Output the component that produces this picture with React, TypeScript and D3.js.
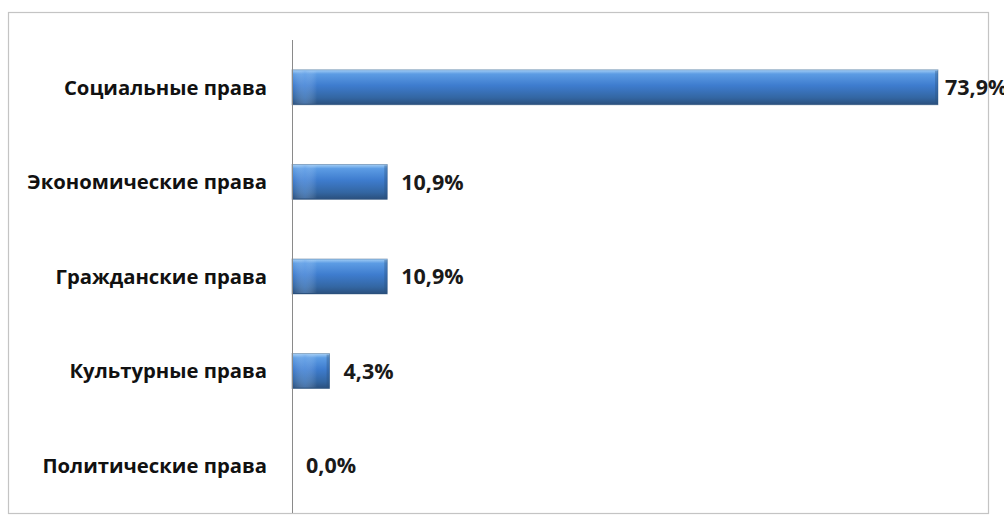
import React from "react";
import * as d3 from "d3";

const categories = [
  "Социальные права",
  "Экономические права",
  "Гражданские права",
  "Культурные права",
  "Политические права",
];
const values = [73.9, 10.9, 10.9, 4.3, 0.0];
const valueLabels = ["73,9%", "10,9%", "10,9%", "4,3%", "0,0%"];

const W = 1004;
const H = 532;
const frame = { x: 8, y: 12, w: 980, h: 501 };
const plot = { left: 292, top: 40, bottom: 513, right: 945 };

export default function App() {
  const x = d3.scaleLinear().domain([0, 73.9]).range([plot.left, 938]);
  const y = d3
    .scaleBand<string>()
    .domain(categories)
    .range([plot.top, plot.bottom])
    .paddingInner(0.63)
    .paddingOuter(0.315);
  const font = "'Open Sans', 'DejaVu Sans', sans-serif";
  return (
    <svg
      width={W}
      height={H}
      style={{ position: "absolute", left: 0, top: 0, background: "#fff" }}
    >
      <defs>
        <linearGradient id="barGrad" x1="0" y1="0" x2="0" y2="1">
          <stop offset="0" stopColor="#a6d0f6" />
          <stop offset="0.12" stopColor="#5c9ce4" />
          <stop offset="0.45" stopColor="#3e7cce" />
          <stop offset="0.8" stopColor="#3366a2" />
          <stop offset="1" stopColor="#2a4f7c" />
        </linearGradient>
        <linearGradient id="capGrad" x1="0" y1="0" x2="1" y2="0">
          <stop offset="0" stopColor="#ffffff" stopOpacity="0.0" />
          <stop offset="0.5" stopColor="#80b2f0" stopOpacity="0.35" />
          <stop offset="1" stopColor="#ffffff" stopOpacity="0.0" />
        </linearGradient>
      </defs>
      <rect
        x={frame.x + 0.5}
        y={frame.y + 0.5}
        width={frame.w}
        height={frame.h}
        fill="#fff"
        stroke="#c4c4c4"
        strokeWidth={1.2}
      />
      <g>
        {categories.map((c, i) => {
          const y0 = y(c)!;
          const bh = y.bandwidth();
          const bw = x(values[i]) - x(0);
          return (
            <g key={c}>
              {bw > 0 && (
                <>
                  <rect
                    x={x(0)}
                    y={y0}
                    width={bw}
                    height={bh}
                    fill="url(#barGrad)"
                    stroke="#2a4f7c"
                    strokeOpacity={0.5}
                    strokeWidth={0.8}
                  />
                  <rect
                    x={x(0) + 1}
                    y={y0 + 1}
                    width={Math.min(24, bw - 2)}
                    height={bh - 2}
                    fill="url(#capGrad)"
                  />
                  <rect
                    x={x(values[i]) - 3}
                    y={y0 + 1}
                    width={3}
                    height={bh - 2}
                    fill="#2a4f7c"
                    opacity={0.35}
                  />
                </>
              )}
              <text
                x={Math.min(x(values[i]) + 14, plot.right)}
                y={y0 + bh / 2}
                dy="0.36em"
                fontFamily={font}
                fontWeight={700}
                fontSize={21.5}
                fill="#1a1a1a"
              >
                {valueLabels[i]}
              </text>
              <text
                x={267}
                y={y0 + bh / 2}
                dy="0.36em"
                textAnchor="end"
                fontFamily={font}
                fontWeight={700}
                fontSize={20.3}
                fill="#111"
              >
                {c}
              </text>
            </g>
          );
        })}
      </g>
      <line
        x1={plot.left + 0.5}
        x2={plot.left + 0.5}
        y1={plot.top}
        y2={plot.bottom}
        stroke="#8a8a8a"
        strokeWidth={1}
      />
    </svg>
  );
}
